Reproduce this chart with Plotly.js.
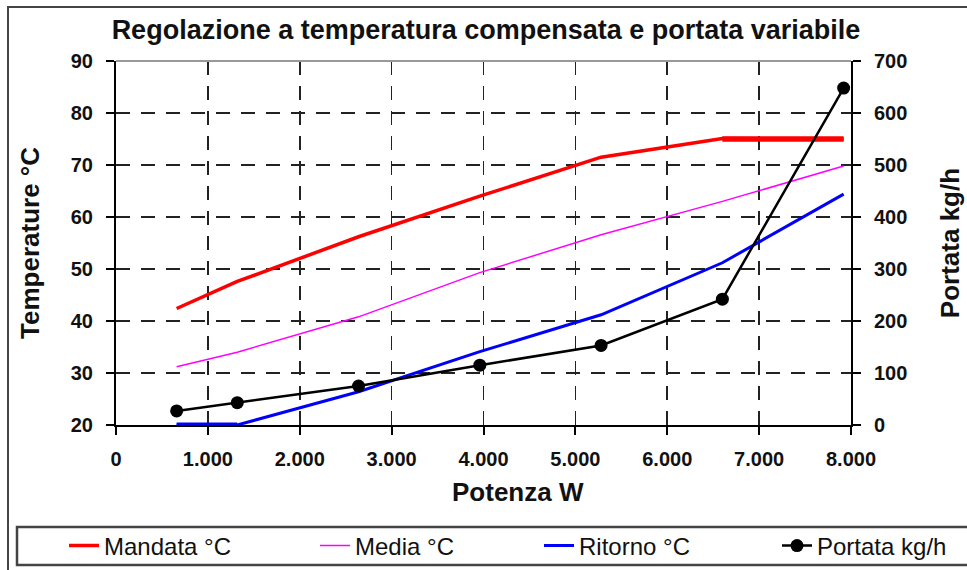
<!DOCTYPE html>
<html>
<head>
<meta charset="utf-8">
<script src="https://cdn.plot.ly/plotly-3.0.1.min.js"></script>
<style>html,body{margin:0;padding:0;background:#fff;}#chart{width:967px;height:570px;}</style>
</head>
<body>
<div id="chart"></div>
<script>
// Data
var potenzaW   = [660, 1320, 2640, 3960, 5280, 6600, 7920];
var mandataC   = [42.4, 47.6, 56.2, 64.0, 71.5, 75.1, 75.0];
var mediaC     = [31.2, 34.0, 40.8, 49.3, 56.6, 63.0, 69.8];
var ritornoC   = [20.0, 20.0, 26.4, 34.1, 41.2, 51.2, 64.4];
var portataKgh = [27, 43, 75, 115, 153, 242, 648];

var seriesNames = ['Mandata °C', 'Media °C', 'Ritorno °C', 'Portata kg/h'];
var chartTitle = 'Regolazione a temperatura compensata e portata variabile';
var xTitle = 'Potenza W';
var yTitle = 'Temperature °C';
var y2Title = 'Portata kg/h';

var FONT = 'Liberation Sans, Arial, sans-serif';

var traces = [
  {x: potenzaW, y: mandataC, name: seriesNames[0], mode: 'lines', legend: 'legend',
   line: {color: '#FF0000', width: 3.5}},
  {x: potenzaW, y: mediaC, name: seriesNames[1], mode: 'lines', legend: 'legend2',
   line: {color: '#FF00FF', width: 1.5}},
  {x: potenzaW, y: ritornoC, name: seriesNames[2], mode: 'lines', legend: 'legend3',
   line: {color: '#0000FF', width: 3}},
  {x: potenzaW, y: portataKgh, name: seriesNames[3], mode: 'lines+markers', yaxis: 'y2', legend: 'legend4',
   line: {color: '#000000', width: 2.5}, marker: {color: '#000000', size: 13}},
  // thicker overlapping segments visible in the reference
  {x: potenzaW.slice(5), y: mandataC.slice(5).map(function(){return mandataC[6];}), mode: 'lines', showlegend: false,
   hoverinfo: 'skip', line: {color: '#FF0000', width: 5.5}},
  {x: potenzaW.slice(0, 2), y: ritornoC.slice(0, 2), mode: 'lines', showlegend: false,
   hoverinfo: 'skip', line: {color: '#0000FF', width: 5}}
];

var axisCommon = {
  showline: true, linecolor: '#000', linewidth: 2,
  ticks: 'outside', ticklen: 8, tickwidth: 2, tickcolor: '#000',
  tickfont: {family: FONT, size: 20, weight: 'bold', color: '#111'},
  zeroline: false
};

function legendAt(px) {
  return {
    orientation: 'h', xref: 'container', yref: 'container',
    x: px/967, xanchor: 'left', y: 1 - 546/570, yanchor: 'middle',
    font: {family: FONT, size: 24, color: '#111'},
    bgcolor: 'rgba(0,0,0,0)', borderwidth: 0
  };
}

var layout = {
  width: 967, height: 570,
  margin: {l: 116, r: 116, t: 61, b: 145, pad: 0},
  paper_bgcolor: '#fff', plot_bgcolor: '#fff',
  separators: ',.',
  font: {family: FONT, color: '#111'},
  title: {text: chartTitle, font: {family: FONT, size: 27, weight: 'bold', color: '#111'},
          xref: 'container', x: 486/967, xanchor: 'center',
          yref: 'container', y: 1 - 30/570, yanchor: 'middle'},
  xaxis: Object.assign({}, axisCommon, {
    range: [0, 8000], tick0: 0, dtick: 1000, tickformat: ',',
    showgrid: true, gridcolor: '#222', gridwidth: 1.6, griddash: '14px,11px',
    ticklabelstandoff: 7
  }),
  yaxis: Object.assign({}, axisCommon, {
    range: [20, 90], tick0: 20, dtick: 10,
    showgrid: true, gridcolor: '#222', gridwidth: 1.6, griddash: '14px,11px',
    ticklabelstandoff: 9,
    title: {text: yTitle, font: {family: FONT, size: 26, weight: 'bold', color: '#111'}, standoff: 24}
  }),
  yaxis2: Object.assign({}, axisCommon, {
    overlaying: 'y', side: 'right', anchor: 'x',
    range: [0, 700], tick0: 0, dtick: 100, showgrid: false,
    ticklabelstandoff: 9,
    title: {text: y2Title, font: {family: FONT, size: 26, weight: 'bold', color: '#111'}, standoff: 34}
  }),
  annotations: [
    {text: xTitle, xref: 'paper', yref: 'paper', x: (518 - 116)/735, y: (425 - 492)/364,
     xanchor: 'center', yanchor: 'middle', showarrow: false,
     font: {family: FONT, size: 26, weight: 'bold', color: '#111'}}
  ],
  showlegend: true,
  legend: legendAt(64),
  legend2: legendAt(315),
  legend3: legendAt(539),
  legend4: legendAt(777),
  shapes: [
    // outer chart frame
    {type: 'rect', xref: 'paper', yref: 'paper', x0: (8 - 116)/735, x1: 1.3, y0: (425 - 7)/364, y1: -0.6,
     line: {color: '#444', width: 2}, fillcolor: 'rgba(0,0,0,0)', layer: 'below'},
    // top border of plot area
    {type: 'line', xref: 'paper', yref: 'paper', x0: 0, x1: 1, y0: 1, y1: 1,
     line: {color: '#999', width: 2}},
    // legend box
    {type: 'rect', xref: 'paper', yref: 'paper', x0: (17 - 116)/735, x1: 1.3, y0: (425 - 527)/364, y1: (425 - 565)/364,
     line: {color: '#444', width: 2.5}, fillcolor: 'rgba(0,0,0,0)', layer: 'below'}
  ]
};

Plotly.newPlot('chart', traces, layout, {displayModeBar: false, staticPlot: true});
</script>
</body>
</html>
